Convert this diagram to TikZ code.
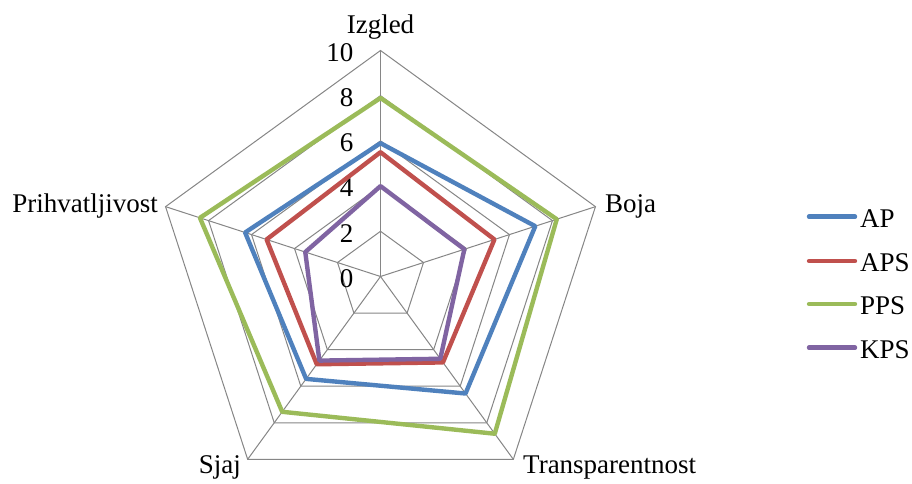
\documentclass[tikz,border=0pt]{standalone}
\usepackage{fontspec}
\setmainfont{Liberation Serif}
\definecolor{apc}{HTML}{4F81BD}
\definecolor{apsc}{HTML}{C0504D}
\definecolor{ppsc}{HTML}{9BBB59}
\definecolor{kpsc}{HTML}{8064A2}
\definecolor{gridc}{HTML}{868686}
\tikzset{
  lbl/.style={inner sep=0pt, font=\fontsize{27}{32}\selectfont},
  gridline/.style={draw=gridc, line width=1pt},
  series/.style={line width=4.4pt, line join=round},
  legline/.style={line width=4.4pt, line cap=round},
}
\begin{document}
\begin{tikzpicture}[x=1pt,y=1pt]
\useasboundingbox (0,0) rectangle (912,484);
\fill[white] (0,0) rectangle (912,484);
\begin{scope}[shift={(380.5,207.5)}]
  \coordinate (c) at (0,0);
  % grid pentagons
  \foreach \k in {2,4,6,8,10}{
    \draw[gridline] ({90}:{\k*22.6pt}) -- ({18}:{\k*22.6pt}) -- ({-54}:{\k*22.6pt}) -- ({-126}:{\k*22.6pt}) -- ({162}:{\k*22.6pt}) -- cycle;
  }
  % spokes
  \coordinate (v1) at (90:226pt);
  \coordinate (v2) at (18:226pt);
  \coordinate (v3) at (-54:226pt);
  \coordinate (v4) at (-126:226pt);
  \coordinate (v5) at (162:226pt);
  \foreach \v in {v1,v2,v3,v4,v5}{ \draw[gridline] (c) -- (\v); }
  % tick labels
  \foreach \k in {0,2,4,6,8,10}{
    \node[lbl, anchor=east] (t\k) at (-27, {\k*22.6-2}) {\k};
  }
  % series
  \newcommand{\radar}[6]{%
    \coordinate (#1a) at (90:{#2*22.6pt});
    \coordinate (#1b) at (18:{#3*22.6pt});
    \coordinate (#1c) at (-54:{#4*22.6pt});
    \coordinate (#1d) at (-126:{#5*22.6pt});
    \coordinate (#1e) at (162:{#6*22.6pt});
  }
  \radar{ap}{5.9}{7.2}{6.4}{5.6}{6.3}
  \radar{aps}{5.5}{5.3}{4.7}{4.8}{5.3}
  \radar{pps}{7.9}{8.2}{8.6}{7.4}{8.4}
  \radar{kps}{4.0}{3.9}{4.5}{4.6}{3.5}
  \draw[series, apc] (apa) -- (apb) -- (apc) -- (apd) -- (ape) -- cycle;
  \draw[series, apsc] (apsa) -- (apsb) -- (apsc) -- (apsd) -- (apse) -- cycle;
  \draw[series, ppsc] (ppsa) -- (ppsb) -- (ppsc) -- (ppsd) -- (ppse) -- cycle;
  \draw[series, kpsc] (kpsa) -- (kpsb) -- (kpsc) -- (kpsd) -- (kpse) -- cycle;
\end{scope}
% axis labels
\node[lbl, anchor=base] (izgled) at (380.5,{484-33.3}) {Izgled};
\node[lbl, anchor=base west] (boja) at (605,{484-213}) {Boja};
\node[lbl, anchor=base west] (transp) at (523,{484-474}) {Transparentnost};
\node[lbl, anchor=base east] (sjaj) at (241,{484-474}) {Sjaj};
\node[lbl, anchor=base east] (prihv) at (158,{484-213}) {Prihvatljivost};
% legend
\coordinate (l1a) at (809,{484-216.7}); \coordinate (l1b) at (855,{484-216.7});
\coordinate (l2a) at (809,{484-261}); \coordinate (l2b) at (855,{484-261});
\coordinate (l3a) at (809,{484-304}); \coordinate (l3b) at (855,{484-304});
\coordinate (l4a) at (809,{484-347.7}); \coordinate (l4b) at (855,{484-347.7});
\draw[legline, apc] (l1a) -- (l1b);
\draw[legline, apsc] (l2a) -- (l2b);
\draw[legline, ppsc] (l3a) -- (l3b);
\draw[legline, kpsc] (l4a) -- (l4b);
\node[lbl, anchor=base west] (lap) at (860,{484-227.3}) {AP};
\node[lbl, anchor=base west] (laps) at (860,{484-271.6}) {APS};
\node[lbl, anchor=base west] (lpps) at (860,{484-314.6}) {PPS};
\node[lbl, anchor=base west] (lkps) at (860,{484-358.3}) {KPS};
\end{tikzpicture}
\end{document}
